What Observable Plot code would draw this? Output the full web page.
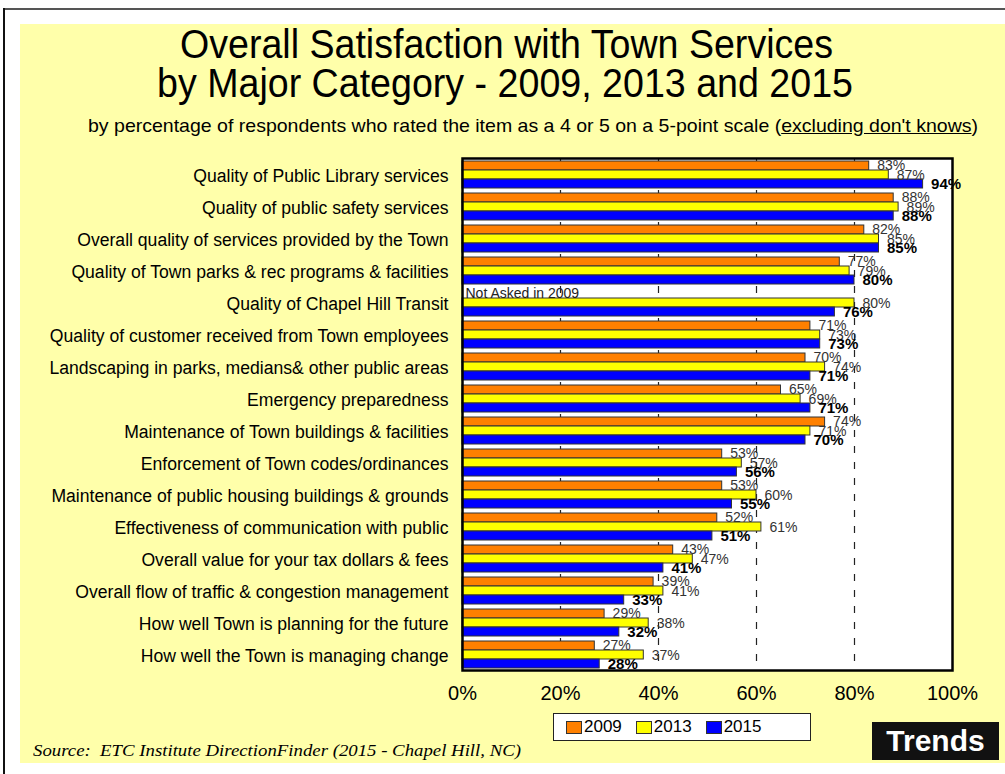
<!DOCTYPE html>
<html><head><meta charset="utf-8">
<script src="https://cdn.jsdelivr.net/npm/d3@7"></script>
<script src="https://cdn.jsdelivr.net/npm/@observablehq/plot@0.6"></script>
<style>
body{margin:0;background:#fff;}
#page{position:relative;width:1005px;height:774px;overflow:hidden;background:#fff;font-family:"Liberation Sans",Arial,sans-serif;color:#000;}
.abs{position:absolute;white-space:nowrap;line-height:1;}
#panel{position:absolute;left:20px;top:24px;width:985px;height:739px;background:#FFFFAA;}
#topline{position:absolute;left:3px;top:8px;width:1002px;height:2px;background:#555;}
#leftline{position:absolute;left:3px;top:8px;width:2px;height:766px;background:#111;}
#chart{position:absolute;left:0;top:140px;}
#legend{position:absolute;left:553px;top:713px;width:244px;height:26px;background:#fff;border:1px solid #222;display:flex;align-items:center;padding-left:12px;box-sizing:content-box;font-size:17px;}
#legend .item{display:flex;align-items:center;margin-right:14px;}
#legend .sw{width:14px;height:11px;border:1px solid #333;margin-right:2px;}
#trends{position:absolute;left:872px;top:722px;width:127px;height:38px;background:#111;color:#fff;font-weight:bold;font-size:30px;display:flex;align-items:center;justify-content:center;}
#source{font-family:"Liberation Serif","Times New Roman",serif;font-style:italic;font-size:17px;}
</style></head><body>
<div id="page">
  <div id="topline"></div>
  <div id="leftline"></div>
  <div id="panel"></div>
  <div class="abs" id="t1" style="font-size:40px;top:24px;">Overall Satisfaction with Town Services</div>
  <div class="abs" id="t2" style="font-size:40px;top:63px;">by Major Category - 2009, 2013 and 2015</div>
  <div class="abs" id="sub" style="font-size:18.5px;top:117px;">by percentage of respondents who rated the item as a 4 or 5 on a 5-point scale (<span style="text-decoration:underline">excluding don't knows</span>)</div>
  <div id="chart"></div>
  <div id="legend"></div>
  <div id="trends">Trends</div>
  <div class="abs" id="source" style="top:742px;">Source:&nbsp; ETC Institute DirectionFinder (2015 - Chapel Hill, NC)</div>
</div>
<script>
const categories = [
  "Quality of Public Library services",
  "Quality of public safety services",
  "Overall quality of services provided by the Town",
  "Quality of Town parks & rec programs & facilities",
  "Quality of Chapel Hill Transit",
  "Quality of customer received from Town employees",
  "Landscaping in parks, medians& other public areas",
  "Emergency preparedness",
  "Maintenance of Town buildings & facilities",
  "Enforcement of Town codes/ordinances",
  "Maintenance of public housing buildings & grounds",
  "Effectiveness of communication with public",
  "Overall value for your tax dollars & fees",
  "Overall flow of traffic & congestion management",
  "How well Town is planning for the future",
  "How well the Town is managing change"
];
const values2009 = [83, 88, 82, 77, null, 71, 70, 65, 74, 53, 53, 52, 43, 39, 29, 27];
const values2013 = [87, 89, 85, 79, 80, 73, 74, 69, 71, 57, 60, 61, 47, 41, 38, 37];
const values2015 = [94, 88, 85, 80, 76, 73, 71, 71, 70, 56, 55, 51, 41, 33, 32, 28];
const years = ["2009", "2013", "2015"];
const yearColors = ["#FF8000", "#FFFF00", "#0000FF"];
const xTicks = [0, 20, 40, 60, 80, 100];
const gridTicks = [20, 40, 60, 80];
const notAskedLabel = "Not Asked in 2009";

const series = [values2009, values2013, values2015];
const rows = categories.flatMap((c, i) => years.map((yr, k) => ({category: c, year: yr, value: series[k][i]})));

// sub-bar placement inside each 32px category band
const insets = [[3, 20], [12, 11], [21, 2]];
const labelDy = [-9, 1, 10];

const marks = [
  Plot.frame({fill: "white"}),
  Plot.ruleX(gridTicks, {stroke: "#222", strokeWidth: 1.2, strokeDasharray: "7,9"})
];
years.forEach((yr, k) => {
  marks.push(Plot.barX(rows.filter(r => r.year === yr && r.value != null), {
    x: "value", y: "category", fill: yearColors[k], stroke: "#333", strokeWidth: 1,
    insetTop: insets[k][0], insetBottom: insets[k][1]
  }));
});
years.forEach((yr, k) => {
  marks.push(Plot.text(rows.filter(r => r.year === yr && r.value != null), {
    x: "value", y: "category", text: d => d.value + "%", dx: 8, dy: labelDy[k],
    textAnchor: "start", fontSize: k === 2 ? 15 : 14, fontWeight: k === 2 ? "bold" : "normal",
    fill: k === 2 ? "#000" : "#333"
  }));
});
marks.push(Plot.text(rows.filter(r => r.year === "2009" && r.value == null), {
  x: 0, y: "category", text: () => notAskedLabel, dx: 3, dy: labelDy[0],
  textAnchor: "start", fontSize: 14, fill: "#222"
}));
marks.push(Plot.frame({stroke: "#000", strokeWidth: 2.5}));

const chart = Plot.plot({
  width: 1005, height: 570,
  marginLeft: 462, marginRight: 53, marginTop: 18, marginBottom: 40,
  style: {background: "transparent", fontFamily: "Liberation Sans, Arial, sans-serif", overflow: "visible", color: "#000"},
  x: {domain: [0, 100], ticks: xTicks, tickFormat: d => d + "%", tickSize: 0, tickPadding: 15, label: null},
  y: {domain: categories, padding: 0, tickSize: 0, tickPadding: 14, label: null},
  marks
});
d3.select(chart).selectAll('[aria-label^="x-axis"] text').attr("font-size", 20).attr("fill", "#000");
d3.select(chart).selectAll('[aria-label^="y-axis"] text').attr("font-size", 17.6).attr("fill", "#000").attr("dy", "0.1em");
document.getElementById("chart").appendChild(chart);

// legend
const legend = d3.select("#legend");
years.forEach((yr, k) => {
  const it = legend.append("div").attr("class", "item");
  it.append("div").attr("class", "sw").style("background", yearColors[k]);
  it.append("span").text(yr);
});

// fit text widths to the reference
function fit(id, left, width) {
  const el = document.getElementById(id);
  const w = el.getBoundingClientRect().width;
  el.style.left = left + "px";
  el.style.transformOrigin = "0 0";
  el.style.transform = `scaleX(${width / w})`;
}
fit("t1", 180, 653);
fit("t2", 157, 696);
fit("sub", 88, 890);
fit("source", 33, 488);
</script>
</body></html>
